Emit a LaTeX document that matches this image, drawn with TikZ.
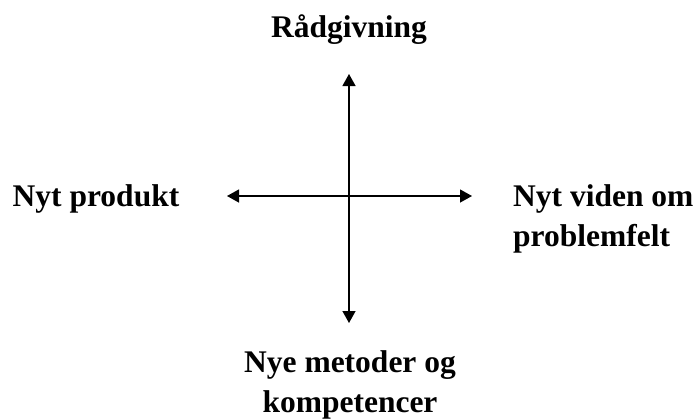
\documentclass[tikz,border=0pt]{standalone}
\usepackage{fontspec}
\setmainfont{Liberation Serif}
\usetikzlibrary{arrows.meta}
\begin{document}
\begin{tikzpicture}[x=1bp,y=-1bp,
  lbl/.style={font=\fontsize{31.5bp}{40bp}\selectfont\bfseries, inner sep=0pt},
  axisline/.style={line width=1.3bp, {Triangle[length=12bp,width=13bp]}-{Triangle[length=12bp,width=13bp]}}]
\useasboundingbox (0,0) rectangle (696,419);
\node[lbl, anchor=base] (top) at (349,37) {Rådgivning};
\node[lbl, anchor=base west] (left) at (12.5,206) {Nyt produkt};
\node[lbl, anchor=base west, align=left] (right) at (513,246) {Nyt viden om\\problemfelt};
\node[lbl, anchor=base, align=center] (bottom) at (350,412) {Nye metoder og\\kompetencer};
\coordinate (vt) at (349,74);
\coordinate (vb) at (349,323);
\coordinate (hl) at (227,196);
\coordinate (hr) at (472,196);
\draw[axisline] (vt) -- (vb);
\draw[axisline] (hl) -- (hr);
\end{tikzpicture}
\end{document}
